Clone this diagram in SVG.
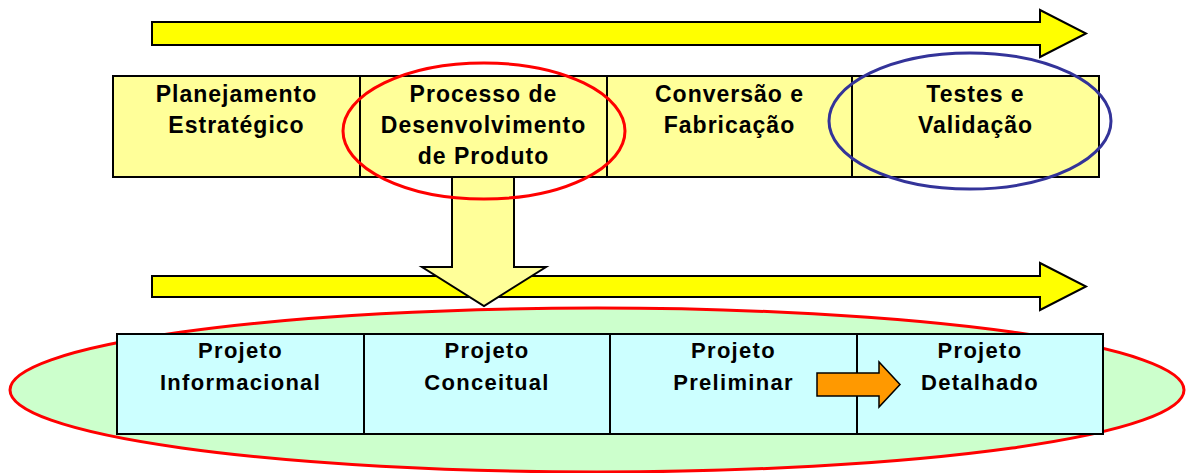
<svg xmlns="http://www.w3.org/2000/svg" width="1187" height="473" viewBox="0 0 1187 473">
<style>
.t{font-family:"Liberation Sans",Arial,sans-serif;font-weight:bold;font-size:23px;fill:#000;text-anchor:middle;letter-spacing:1px}
.b{font-family:"Liberation Sans",Arial,sans-serif;font-weight:bold;font-size:22px;fill:#000;text-anchor:middle;letter-spacing:1.3px}
.arr{fill:#FFFF00;stroke:#000;stroke-width:2}
.top{fill:#FFFF99;stroke:#000;stroke-width:2}
.bot{fill:#CCFFFF;stroke:#000;stroke-width:2}
</style>
<rect width="1187" height="473" fill="#fff"/>
<g id="connectors">
<polygon id="arrow-top" class="arr" points="152,22 1040,22 1040,10 1086,33.5 1040,57 1040,45 152,45"/>
</g>
<g id="n1"><rect class="top" x="113" y="76" width="247" height="101"/>
<text class="t" x="236.5" y="102">Planejamento</text><text class="t" x="236.5" y="133">Estratégico</text></g>
<g id="n2"><rect class="top" x="360" y="76" width="247" height="101"/>
<text class="t" x="483.5" y="102">Processo de</text><text class="t" x="483.5" y="133">Desenvolvimento</text><text class="t" x="483.5" y="164">de Produto</text></g>
<g id="n3"><rect class="top" x="607" y="76" width="245" height="101"/>
<text class="t" x="729.5" y="102">Conversão e</text><text class="t" x="729.5" y="133">Fabricação</text></g>
<g id="n4"><rect class="top" x="852" y="76" width="247" height="101"/>
<text class="t" x="975.5" y="102">Testes e</text><text class="t" x="975.5" y="133">Validação</text></g>
<g id="connectors2">
<polygon class="arr" points="152,276 1040,276 1040,263 1086,286.5 1040,310 1040,297 152,297"/>
<polygon fill="#FFFF99" stroke="#000" stroke-width="2" points="452,177 514,177 514,267 546,267 484,306 422,267 452,267"/>
</g>
<ellipse id="red-top" cx="484" cy="131" rx="141" ry="68" fill="none" stroke="#FF0000" stroke-width="3"/>
<ellipse id="blue" cx="970" cy="121" rx="141" ry="68" fill="none" stroke="#333399" stroke-width="3"/>
<ellipse id="green" cx="597" cy="390" rx="587" ry="82" fill="#CCFFCC" stroke="#FF0000" stroke-width="3"/>
<g id="m1"><rect class="bot" x="117" y="334" width="247" height="100"/>
<text class="b" x="240.5" y="358">Projeto</text><text class="b" x="240.5" y="390">Informacional</text></g>
<g id="m2"><rect class="bot" x="364" y="334" width="246" height="100"/>
<text class="b" x="487" y="358">Projeto</text><text class="b" x="487" y="390">Conceitual</text></g>
<g id="m3"><rect class="bot" x="610" y="334" width="247" height="100"/>
<text class="b" x="733.5" y="358">Projeto</text><text class="b" x="733.5" y="390">Preliminar</text></g>
<g id="m4"><rect class="bot" x="857" y="334" width="246" height="100"/>
<text class="b" x="980" y="358">Projeto</text><text class="b" x="980" y="390">Detalhado</text></g>
<g id="connectors3">
<polygon fill="#FF9900" stroke="#000" stroke-width="1.5" points="817,373 879,373 879,362 900,384.5 879,407 879,396 817,396"/>
</g>
</svg>
